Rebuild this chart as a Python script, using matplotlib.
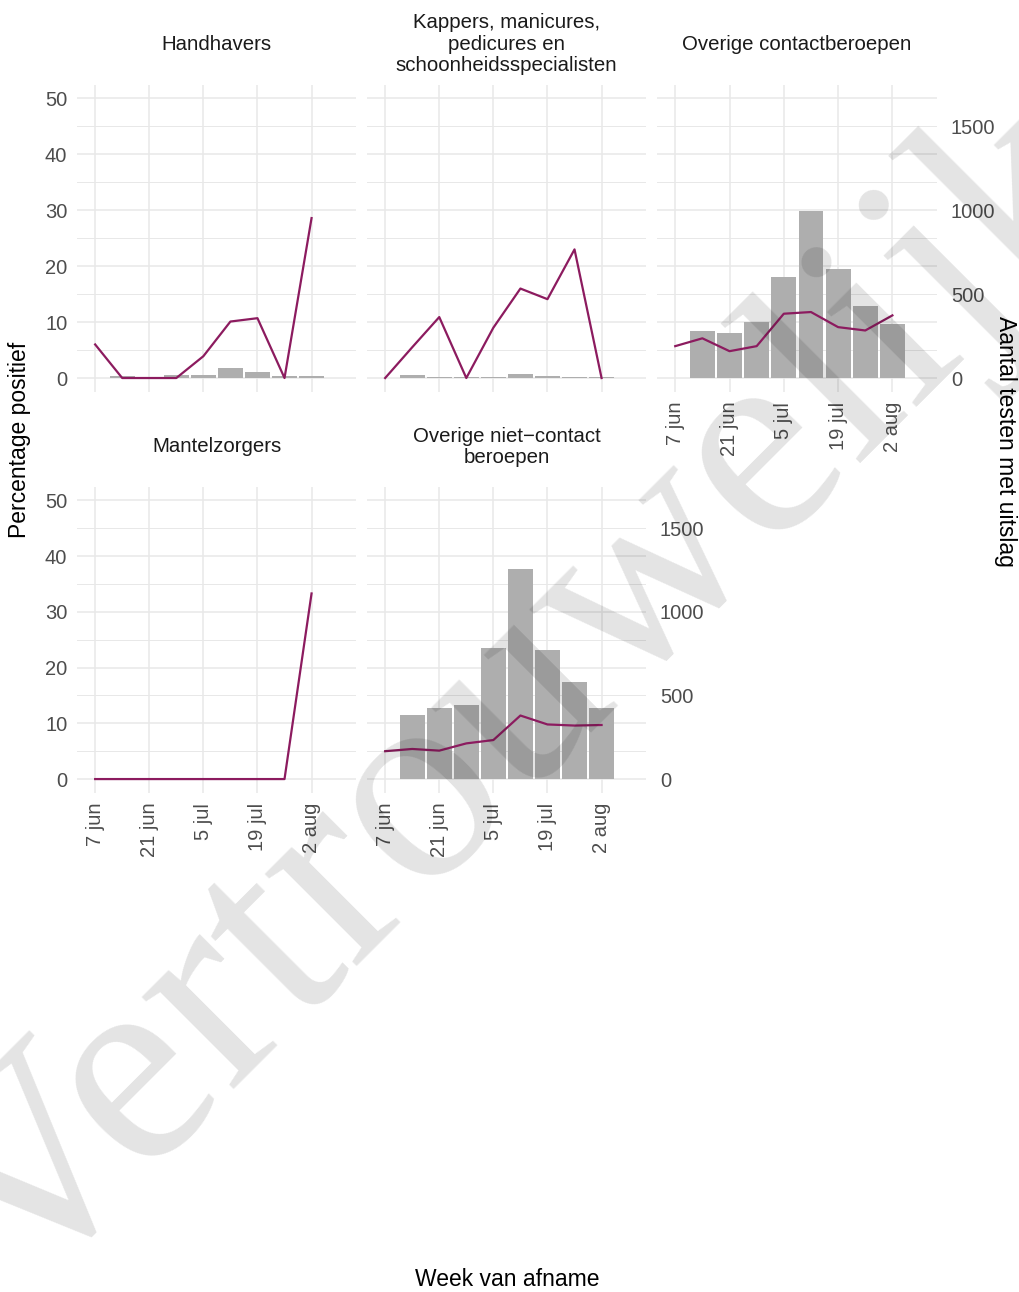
import matplotlib.pyplot as plt
import numpy as np

plt.rcParams['font.family'] = ['Liberation Sans', 'DejaVu Sans']

# weeks (start date), day offset from 7 jun
week_labels = ['7 jun', '14 jun', '21 jun', '28 jun', '5 jul', '12 jul', '19 jul', '26 jul', '2 aug']
week_days = np.arange(len(week_labels)) * 7
tick_days = week_days[::2]
tick_labels = week_labels[::2]

titles = ['Handhavers',
          'Kappers, manicures,\npedicures en\nschoonheidsspecialisten',
          'Overige contactberoepen',
          'Mantelzorgers',
          'Overige niet\u2212contact\nberoepen']

# percentage positief per week (7 jun .. 2 aug)
pct_handhavers = [6.0, 0, 0, 0, 3.9, 10.1, 10.7, 0, 28.6]
pct_kappers = [0, 5.5, 10.9, 0, 9.0, 16.0, 14.1, 23.0, 0]
pct_contact = [5.7, 7.1, 4.8, 5.7, 11.5, 11.8, 9.1, 8.5, 11.2]
pct_mantelzorg = [0, 0, 0, 0, 0, 0, 0, 0, 33.3]
pct_nietcontact = [5.0, 5.4, 5.1, 6.4, 7.0, 11.4, 9.8, 9.6, 9.7]

# aantal testen met uitslag (14 jun .. 2 aug)
n_handhavers = [10, 6, 16, 20, 58, 36, 14, 12]
n_kappers = [16, 8, 8, 8, 24, 10, 8, 7]
n_contact = [280, 270, 335, 605, 998, 649, 430, 321]
n_mantelzorg = [0, 0, 0, 0, 0, 2, 3, 3]
n_nietcontact = [382, 424, 442, 781, 1257, 769, 580, 424]

pcts = [pct_handhavers, pct_kappers, pct_contact, pct_mantelzorg, pct_nietcontact]
counts = [n_handhavers, n_kappers, n_contact, n_mantelzorg, n_nietcontact]

scale = 0.03  # 1500 tests -> 45 %

W, H = 1019, 1292
fig = plt.figure(figsize=(W / 100, H / 100), dpi=100)

col_x = [(77, 356), (367, 646), (657, 937)]
row_y = [(85, 392), (487, 793)]
strip_y = [44, 447]

layout = [(0, 0), (0, 1), (0, 2), (1, 0), (1, 1)]
show_x = [False, False, True, True, True]
show_left = [True, False, False, True, False]
show_right = [False, False, True, False, True]

line_color = '#8C1B5F'
bar_color = '#AEAEAE'
grid_color = '#E8E8E8'
tick_color = '#4D4D4D'

for i, (r, c) in enumerate(layout):
    x0, x1 = col_x[c]
    y0, y1 = row_y[r]
    ax = fig.add_axes([x0 / W, 1 - y1 / H, (x1 - x0) / W, (y1 - y0) / H])
    ax.bar(week_days[1:], np.array(counts[i]) * scale, width=6.4, color=bar_color, zorder=2)
    ax.plot(week_days, pcts[i], color=line_color, lw=1.6, zorder=3)

    ax.set_xlim(-4.7, 56 + 11.5)
    ax.set_ylim(-2.5, 52.4)
    ax.set_xticks(tick_days)
    ax.set_xticklabels(tick_labels, rotation=90)
    ax.set_yticks(range(0, 51, 10))
    ax.set_yticks(range(5, 50, 10), minor=True)
    ax.grid(True, which='major', color=grid_color, lw=1.1)
    ax.grid(True, which='minor', axis='y', color=grid_color, lw=0.7)
    ax.set_axisbelow(True)
    for s in ax.spines.values():
        s.set_visible(False)
    ax.tick_params(which='both', length=0, labelsize=14.5, labelcolor=tick_color, pad=7)
    if not show_x[i]:
        ax.tick_params(axis='x', labelbottom=False)
    if not show_left[i]:
        ax.tick_params(axis='y', labelleft=False)
    if show_right[i]:
        sec = ax.secondary_yaxis('right', functions=(lambda y: y / scale, lambda n: n * scale))
        sec.set_yticks([0, 500, 1000, 1500])
        sec.tick_params(length=0, labelsize=14.5, labelcolor=tick_color, pad=10)
        for s in sec.spines.values():
            s.set_visible(False)

    fig.text((x0 + x1) / 2 / W, 1 - strip_y[r] / H, titles[i], ha='center', va='center',
             fontsize=14.7, color='#1A1A1A', linespacing=1.14)

fig.text(20 / W, 1 - 440 / H, 'Percentage positief', rotation=90, ha='center', va='center',
         fontsize=16.5, color='black')
fig.text(1005 / W, 1 - 441 / H, 'Aantal testen met uitslag', rotation=-90, ha='center', va='center',
         fontsize=16.5, color='black')
fig.text(507 / W, 1 - 1280 / H, 'Week van afname', ha='center', va='center',
         fontsize=16.5, color='black')

# watermark
fig.text(18 / W, 1 - 1303 / H, 'Vertrouwelijk', rotation=45, rotation_mode='anchor',
         ha='left', va='baseline', fontsize=205, family='Liberation Serif',
         color='black', alpha=0.11)

fig.savefig('out.png', dpi=100)
